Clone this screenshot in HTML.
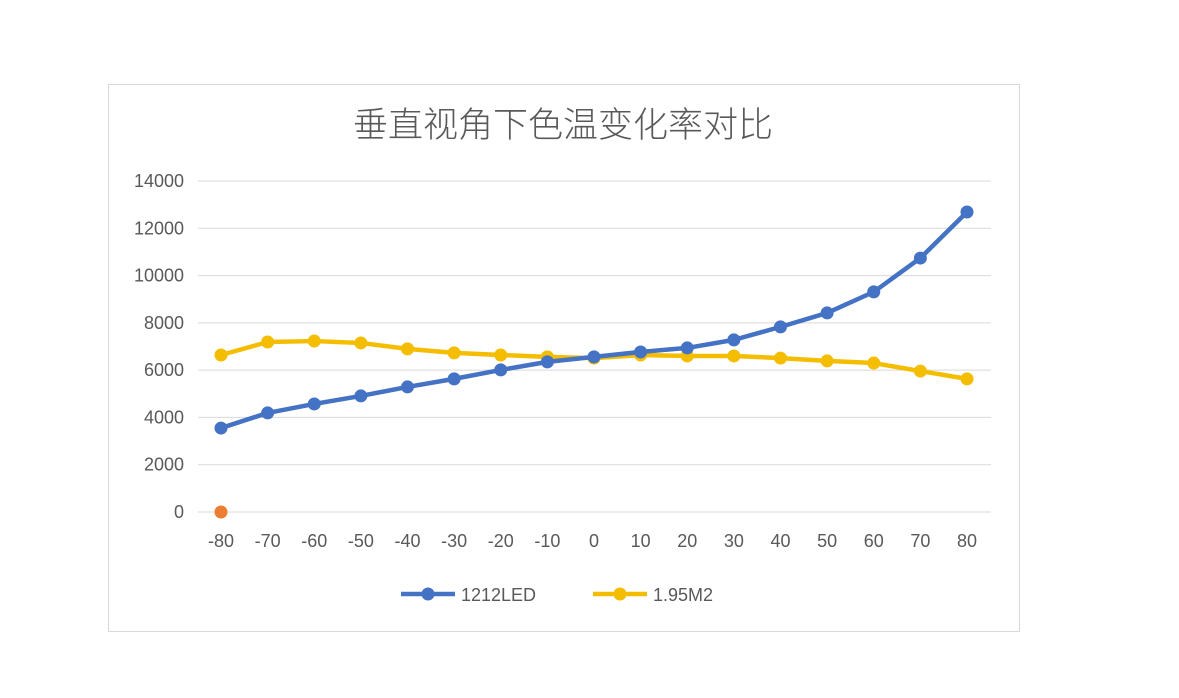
<!DOCTYPE html>
<html><head><meta charset="utf-8"><style>
body{margin:0;background:#fff;width:1179px;height:693px;overflow:hidden}
svg{font-family:"Liberation Sans","Noto Sans CJK SC",sans-serif}
</style></head><body>
<svg width="1179" height="693">
<rect x="108.5" y="84.5" width="911" height="547" fill="#fff" stroke="#d9d9d9"/>
<text x="563" y="137" text-anchor="middle" font-size="35" font-weight="300" fill="#595959" font-family="'Noto Sans CJK SC',sans-serif">垂直视角下色温变化率对比</text>
<g id="grid"></g><g id="series"></g>
<g>
<g><line x1="401" y1="594" x2="455" y2="594" stroke="#4472c4" stroke-width="4.5"/><circle cx="428" cy="594" r="6.5" fill="#4472c4"/><text x="461" y="601" font-size="18" fill="#595959">1212LED</text></g>
<g><line x1="593" y1="594" x2="647" y2="594" stroke="#f5bd00" stroke-width="4.5"/><circle cx="620" cy="594" r="6.5" fill="#f5bd00"/><text x="653" y="601" font-size="18" fill="#595959">1.95M2</text></g>
</g>
</svg>
<script>
const categories=[-80,-70,-60,-50,-40,-30,-20,-10,0,10,20,30,40,50,60,70,80];
const series1212LED=[3550,4190,4570,4910,5290,5630,6010,6350,6560,6770,6940,7280,7830,8420,9310,10740,12690];
const series195M2=[6640,7190,7230,7150,6900,6730,6640,6560,6510,6640,6600,6600,6510,6390,6300,5960,5630];
const extraPoint=[0];
const yTicks=[0,2000,4000,6000,8000,10000,12000,14000];
const NS="http://www.w3.org/2000/svg";
const x=i=>221+i*(967-221)/(categories.length-1);
const y=v=>512-v*(512-181)/14000;
const grid=document.getElementById('grid'),ser=document.getElementById('series');
function mk(t,a,p){const e=document.createElementNS(NS,t);for(const k in a)e.setAttribute(k,a[k]);p.appendChild(e);return e;}
yTicks.forEach(v=>{
 const l=mk('line',{x1:198,x2:991,y1:y(v),y2:y(v),stroke:'#d9d9d9','stroke-width':1},grid);
 
 
 const t=mk('text',{x:184,y:y(v)+6,'text-anchor':'end','font-size':18,fill:'#595959'},grid);t.textContent=v;
 
 
});
categories.forEach((c,i)=>{
 const t=mk('text',{x:x(i),y:547,'text-anchor':'middle','font-size':18,fill:'#595959'},grid);t.textContent=c;
 
 
});
function draw(data,color,name){
 const p=mk('polyline',{points:data.map((v,i)=>x(i)+','+y(v)).join(' '),fill:'none',stroke:color,'stroke-width':4.5,'stroke-linejoin':'round'},ser);
 
 
 data.forEach((v,i)=>{const c=mk('circle',{cx:x(i),cy:y(v),r:6.5,fill:color},ser);
 
 });
}
draw(series195M2,'#f5bd00','series-1.95m2');
draw(series1212LED,'#4472c4','series-1212led');
extraPoint.forEach((v,i)=>{const c=mk('circle',{cx:x(i),cy:y(v),r:6.5,fill:'#ed7d31'},ser);
 
 });
</script>
</body></html>
